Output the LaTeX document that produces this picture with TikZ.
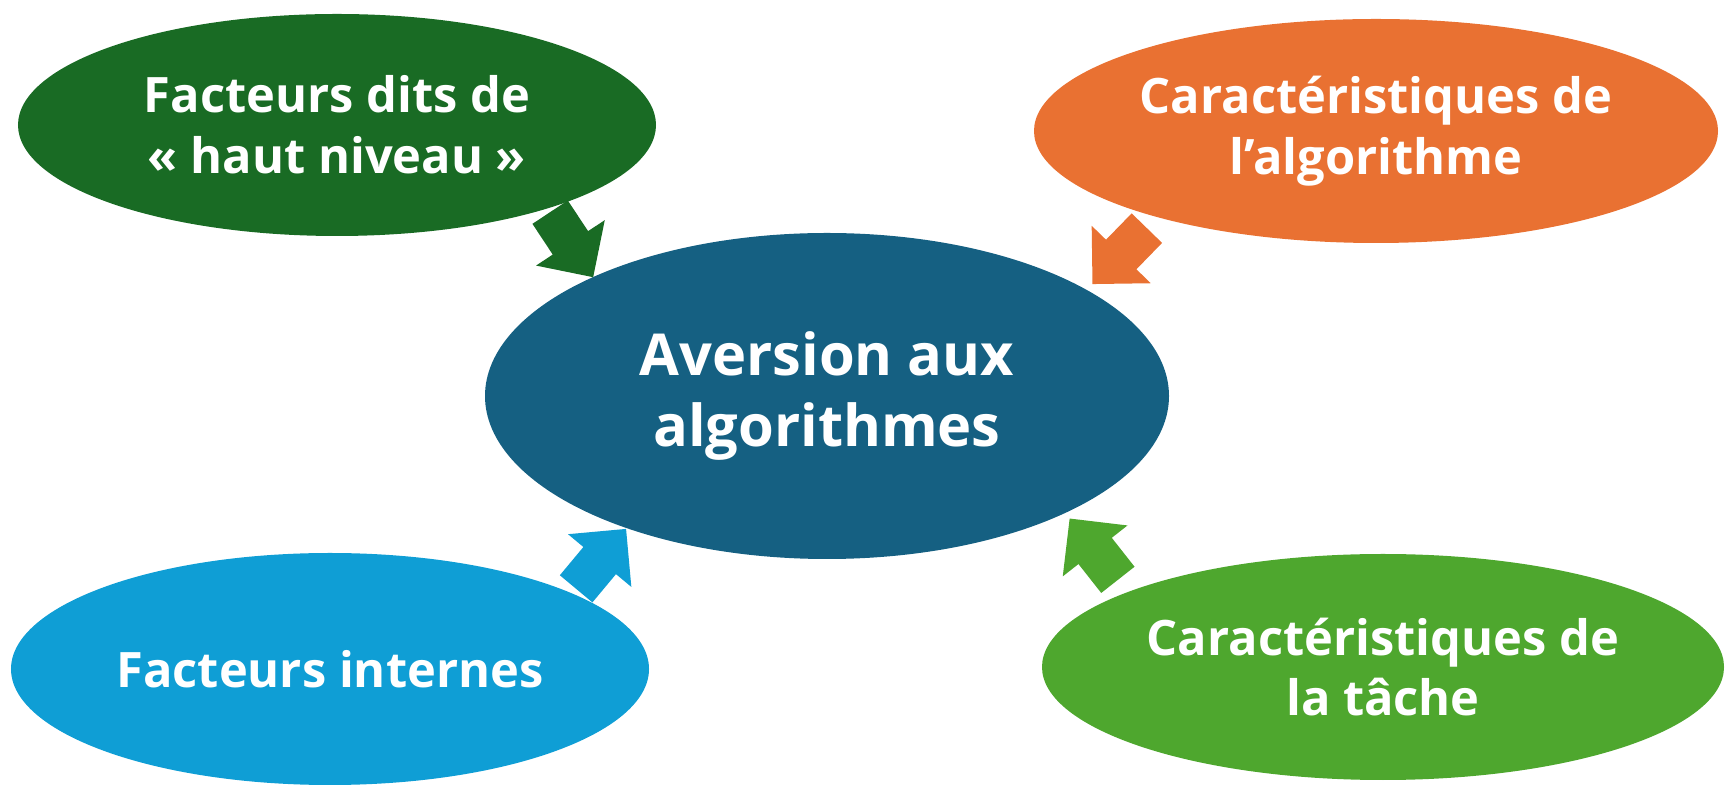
\documentclass[tikz,border=0pt]{standalone}
\usepackage{fontspec}
\setmainfont{Open Sans}
\usetikzlibrary{shapes.geometric}
\usetikzlibrary{shapes.arrows}
\definecolor{avblue}{HTML}{156082}
\definecolor{hautgreen}{HTML}{196B24}
\definecolor{algoorange}{HTML}{E97132}
\definecolor{internblue}{HTML}{0F9ED5}
\definecolor{tachegreen}{HTML}{4EA72E}
\tikzset{x=1bp, y=1bp, % one unit is one pixel of the reference
factor/.style={ % Sets the properties for each ellipse
ellipse,
inner sep=0pt,
text=white,
align=center,
font=\bfseries\fontsize{49}{61}\selectfont},
pusharrow/.style={ % Block arrows pointing to the centre
single arrow,
inner xsep=0pt,
inner ysep=21bp, % half the shaft width
minimum height=78bp,
minimum width=82bp,
single arrow head extend=20bp,
anchor=tail}}

\begin{document}
\begin{tikzpicture}
    \useasboundingbox (0,0) rectangle (1729,785);
    \node[factor, fill=hautgreen, minimum width=638bp, minimum height=222bp] (haut) at (337,660) {Facteurs dits de\\« haut niveau »};
    \node[factor, fill=algoorange, minimum width=684bp, minimum height=224bp] (algo) at (1376,654) {Caractéristiques de\\l’algorithme};
    \node[factor, fill=avblue, minimum width=684bp, minimum height=326bp, font=\bfseries\fontsize{58}{72}\selectfont] (aversion) at (827,389) {Aversion aux\\algorithmes};
    \node[factor, fill=internblue, minimum width=638bp, minimum height=232bp] (internes) at (330,116) {Facteurs internes};
    \node[factor, fill=tachegreen, minimum width=682bp, minimum height=226bp] (tache) at (1383,118) {Caractéristiques de\\la tâche};
    \node[pusharrow, fill=hautgreen, rotate=-56.5] (ahaut) at (550,573) {};
    \node[pusharrow, fill=algoorange, rotate=-134.2] (aalgo) at (1147,557) {};
    \node[pusharrow, fill=internblue, rotate=50.2] (ainternes) at (576,196) {};
    \node[pusharrow, fill=tachegreen, rotate=128.2] (atache) at (1118,205) {};
\end{tikzpicture}
\end{document}
